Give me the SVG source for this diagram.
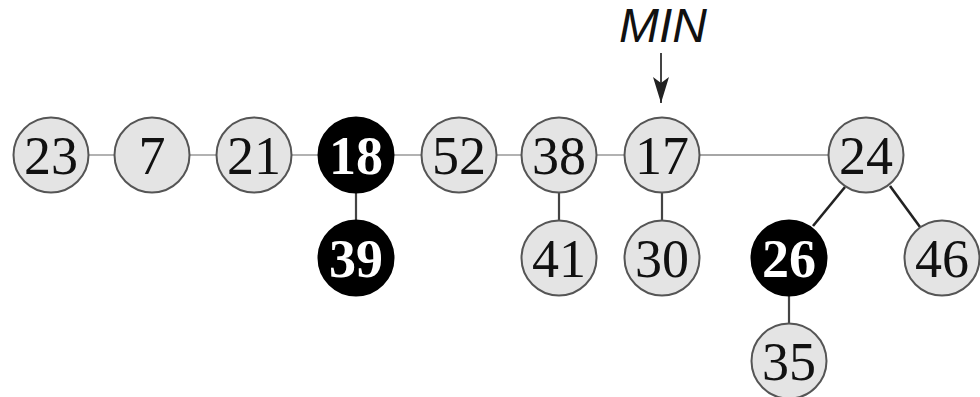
<svg xmlns="http://www.w3.org/2000/svg" width="980" height="397" viewBox="0 0 980 397">
<style>
.n circle{fill:#e4e4e4;stroke:#555;stroke-width:2}
.b circle{fill:#000;stroke:#000;stroke-width:2}
.n text,.b text{font-family:"Liberation Serif","Times New Roman",serif;font-size:54px;text-anchor:middle}
.n text{fill:#111}
.b text{fill:#fff;font-weight:bold}
.h{stroke:#888;stroke-width:1.3;fill:none}
.v{stroke:#444;stroke-width:2.2;fill:none}
.d{stroke:#222;stroke-width:2.6;fill:none}
</style>
<defs>
<marker id="ah" markerWidth="26" markerHeight="16" refX="26" refY="8" orient="auto" markerUnits="userSpaceOnUse" viewBox="0 0 26 16">
<path d="M0,0 L26,8 L0,16 L6,8 Z" fill="#222"/>
</marker>
</defs>
<rect width="980" height="397" fill="#fff"/>
<text x="663" y="42" font-family="Liberation Sans,Arial,sans-serif" font-size="48" font-style="italic" text-anchor="middle" fill="#111">MIN</text>
<g id="connectors">
<line class="h" x1="89" y1="155" x2="114" y2="155"/>
<line class="h" x1="190" y1="155" x2="216" y2="155"/>
<line class="h" x1="292" y1="155" x2="318" y2="155"/>
<line class="h" x1="394" y1="155" x2="421" y2="155"/>
<line class="h" x1="497" y1="155" x2="521" y2="155"/>
<line class="h" x1="597" y1="155" x2="624" y2="155"/>
<line class="h" x1="700" y1="155" x2="828" y2="155"/>
<line class="v" x1="356" y1="193" x2="356" y2="220"/>
<line class="v" x1="559" y1="193" x2="559" y2="220"/>
<line class="v" x1="662" y1="193" x2="662" y2="220"/>
<line class="v" x1="789" y1="296" x2="789" y2="323"/>
<line class="d" x1="845" y1="187" x2="813" y2="226"/>
<line class="d" x1="890" y1="186" x2="920" y2="227"/>
<line x1="661" y1="53" x2="661" y2="103" stroke="#444" stroke-width="2" marker-end="url(#ah)"/>
</g>
<g id="n23" class="n"><circle cx="51" cy="155" r="37.5"/><text x="51" y="174">23</text></g>
<g id="n7" class="n"><circle cx="152" cy="155" r="37.5"/><text x="152" y="174">7</text></g>
<g id="n21" class="n"><circle cx="254" cy="155" r="37.5"/><text x="254" y="174">21</text></g>
<g id="n18" class="b"><circle cx="356" cy="155" r="37.5"/><text x="356" y="174">18</text></g>
<g id="n39" class="b"><circle cx="356" cy="258" r="37.5"/><text x="356" y="277">39</text></g>
<g id="n52" class="n"><circle cx="459" cy="155" r="37.5"/><text x="459" y="174">52</text></g>
<g id="n38" class="n"><circle cx="559" cy="155" r="37.5"/><text x="559" y="174">38</text></g>
<g id="n41" class="n"><circle cx="559" cy="258" r="37.5"/><text x="559" y="277">41</text></g>
<g id="n17" class="n"><circle cx="662" cy="155" r="37.5"/><text x="662" y="174">17</text></g>
<g id="n30" class="n"><circle cx="662" cy="258" r="37.5"/><text x="662" y="277">30</text></g>
<g id="n24" class="n"><circle cx="866" cy="155" r="37.5"/><text x="866" y="174">24</text></g>
<g id="n26" class="b"><circle cx="789" cy="258" r="37.5"/><text x="789" y="277">26</text></g>
<g id="n46" class="n"><circle cx="942" cy="258" r="37.5"/><text x="942" y="277">46</text></g>
<g id="n35" class="n"><circle cx="789" cy="361" r="37.5"/><text x="789" y="380">35</text></g>
</svg>
